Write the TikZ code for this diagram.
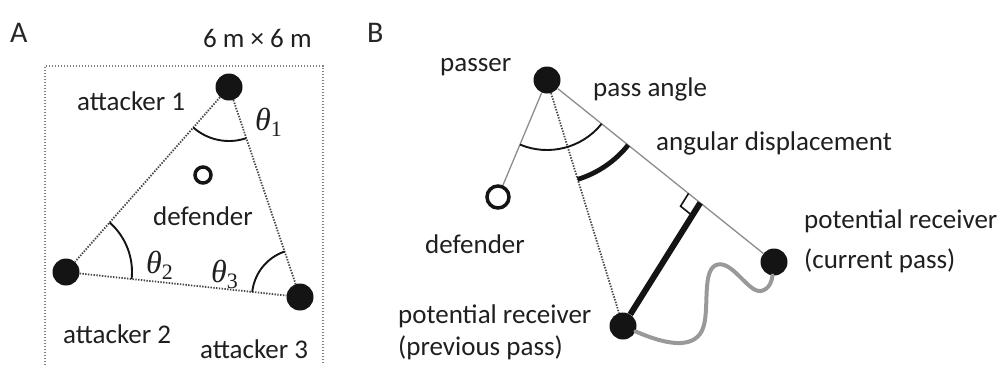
\documentclass[tikz,border=0pt]{standalone}
\usepackage{fontspec}
\setmainfont{Carlito}
\newfontfamily\greekserif{Liberation Serif}
\newcommand{\angname}[1]{{\greekserif\itshape\fontsize{32}{34}\selectfont θ}\raisebox{-6pt}{\greekserif\fontsize{22}{24}\selectfont #1}}
\usetikzlibrary{calc,angles}
\begin{document}
\begin{tikzpicture}[x=1pt,y=1pt,
  lbl/.style={anchor=base west, inner sep=0pt, font=\fontsize{27}{32}\selectfont, text=black!88},
  panel/.style={anchor=base west, inner sep=0pt, font=\fontsize{30}{36}\selectfont, text=black!85},
  player/.style={circle, fill=black!92, inner sep=0pt, minimum size=27pt},
  opponent/.style={circle, draw=black!92, line width=3.5pt, inner sep=0pt, minimum size=#1},
  dotline/.style={draw=black!72, line width=1.8pt, dash pattern=on 1.4pt off 1.4pt},
  fieldline/.style={draw=black!50, line width=1.4pt, dash pattern=on 1.2pt off 1.8pt},
  thinline/.style={draw=black!45, line width=1.3pt},
  anglearc/.style={draw=black!92, line width=1.9pt},
  boldarc/.style={draw=black!92, line width=4.8pt},
  gapline/.style={draw=black!92, line width=6pt},
  track/.style={draw=black!40, line width=4pt, line cap=round},
]
\useasboundingbox (0,0) rectangle (1004,-365);

% ---------- panel A: three attackers around one defender ----------
\node[panel] (labA) at (10,-42) {A};
\node[lbl] (size) at (203,-47) {6 m × 6 m};
\draw[fieldline] (45,-365) -- (45,-66) -- (323,-66) -- (323,-365);

\node[player] (a1) at (229,-87) {};
\node[player] (a2) at (66,-272) {};
\node[player] (a3) at (300,-297) {};
\node[opponent=16pt] (defA) at (203,-175) {};

\draw[dotline] (a1) -- (a2);
\draw[dotline] (a1) -- (a3);
\draw[dotline] (a2) -- (a3);

\pic[anglearc, angle radius=54pt] {angle = a2--a1--a3};
\pic[anglearc, angle radius=66pt] {angle = a3--a2--a1};
\pic[anglearc, angle radius=48pt] {angle = a1--a3--a2};

\node[lbl] (t1) at (77,-110) {attacker 1};
\node[lbl] (t2) at (63,-343) {attacker 2};
\node[lbl] (t3) at (200,-358) {attacker 3};
\node[lbl] (tdA) at (153,-225) {defender};
\node[lbl] (th1) at (255,-130) {\angname{1}};
\node[lbl] (th2) at (146,-273) {\angname{2}};
\node[lbl] (th3) at (211,-282) {\angname{3}};

% ---------- panel B: pass angle and angular displacement ----------
\node[panel] (labB) at (367,-42) {B};

\node[player] (pas) at (547,-80) {};
\node[opponent=22pt] (defB) at (498,-197) {};
\node[player] (prev) at (623,-326) {};
\node[player] (cur) at (774,-262) {};
\coordinate (foot) at ($(pas)!0.675!(cur)$);

\draw[thinline] (pas) -- (defB);
\draw[thinline] (pas) -- (cur);
\draw[dotline] (pas) -- (prev);

\pic[anglearc, angle radius=70pt] {angle = defB--pas--cur};
\pic[boldarc, angle radius=104pt] {angle = prev--pas--cur};

\draw[gapline] (prev) -- (foot);
\pic[draw=black!92, line width=1.6pt, angle radius=15pt] {right angle = pas--foot--prev};

\draw[track] (prev) .. controls (660,-342) and (688,-350) .. (700,-334)
  .. controls (712,-318) and (700,-272) .. (716,-265)
  .. controls (732,-259) and (748,-293) .. (761,-291)
  .. controls (770,-289) and (772,-280) .. (cur);

\node[lbl] (tpas) at (440,-71) {passer};
\node[lbl] (tang) at (593,-96) {pass angle};
\node[lbl] (tdisp) at (656,-150) {angular displacement};
\node[lbl] (tdB) at (425,-253) {defender};
\node[lbl] (tprev1) at (398,-323) {potential receiver};
\node[lbl] (tprev2) at (398,-355) {(previous pass)};
\node[lbl] (tcur1) at (804,-228) {potential receiver};
\node[lbl] (tcur2) at (804,-268) {(current pass)};
\end{tikzpicture}
\end{document}
